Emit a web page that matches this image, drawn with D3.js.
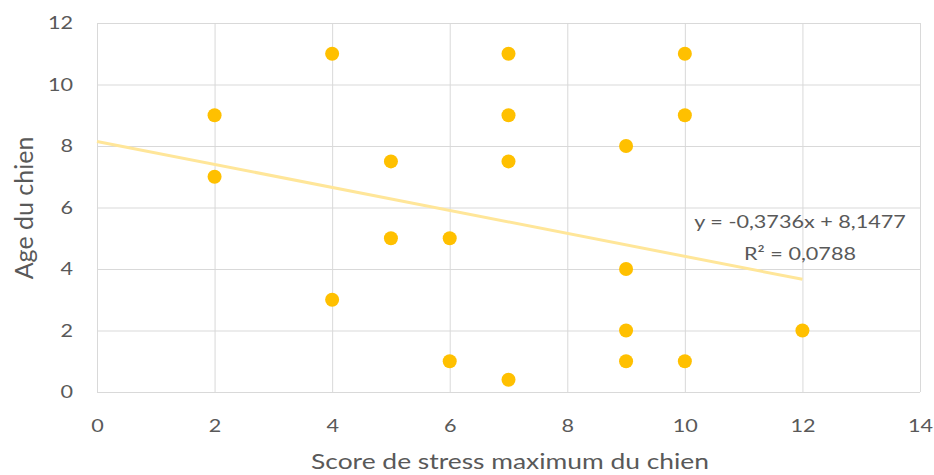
<!DOCTYPE html>
<html>
<head>
<meta charset="utf-8">
<script src="https://cdn.jsdelivr.net/npm/d3@7"></script>
<style>
  body { margin: 0; background: #fff; }
  text { font-family: Lato, "Open Sans", sans-serif; fill: #595959; }
  .grid line { stroke: #d9d9d9; stroke-width: 1; }
  .axis path, .axis line { display: none; }
</style>
</head>
<body>
<div id="chart"></div>
<script>
// data
var stressScores = [2, 2, 4, 4, 5, 5, 6, 6, 7, 7, 7, 7, 9, 9, 9, 9, 10, 10, 10, 12];
var dogAges      = [9, 7, 11, 3, 7.5, 5, 5, 1, 11, 9, 7.5, 0.4, 8, 4, 2, 1, 11, 9, 1, 2];
var xTicks = [0, 2, 4, 6, 8, 10, 12, 14];
var yTicks = [0, 2, 4, 6, 8, 10, 12];
var trendSlope = -0.3736;
var trendIntercept = 8.1477;
var trendRange = [0, 12];
var equationLabel = "y = -0,3736x + 8,1477";
var r2Label = "R² = 0,0788";

var margin = {top: 23, right: 14, bottom: 83, left: 97};
var width = 934 - margin.left - margin.right;
var height = 475 - margin.top - margin.bottom;

// the reference text is drawn a bit wider than Lato, stretch it horizontally
var stretch = 1.2;

var svg = d3.select("#chart")
            .append("svg")
              .attr("width", 934)
              .attr("height", 475);

var chart = svg.append("g")
              .attr("transform", "translate(" + margin.left + "," + margin.top + ")");

var points = stressScores.map(function(d, i) {
  return {x: d, y: dogAges[i]};
});

// scales
var xScale = d3.scaleLinear().domain([0, 14]).range([0, width]);
var yScale = d3.scaleLinear().domain([0, 12]).range([height, 0]);

// gridlines
var grid = chart.append("g").attr("class", "grid");
grid.selectAll(".hline")
    .data(yTicks)
    .enter()
  .append("line")
    .attr("x1", 0)
    .attr("x2", width)
    .attr("y1", function(d) { return yScale(d) + 0.5; })
    .attr("y2", function(d) { return yScale(d) + 0.5; });
grid.selectAll(".vline")
    .data(xTicks)
    .enter()
  .append("line")
    .attr("y1", 0)
    .attr("y2", height)
    .attr("x1", function(d) { return xScale(d) + 0.5; })
    .attr("x2", function(d) { return xScale(d) + 0.5; });

// axes
var xAxis = d3.axisBottom(xScale).tickValues(xTicks).tickSize(0).tickPadding(27).tickFormat(d3.format("d"));
var yAxis = d3.axisLeft(yScale).tickValues(yTicks).tickSize(0).tickFormat(d3.format("d"));

chart.append("g")
      .attr("class", "axis x-axis")
      .attr("transform", "translate(0," + height + ")")
      .call(xAxis)
      .selectAll("text")
        .style("font-size", "18px")
        .attr("transform", "scale(" + stretch + ",1)");

chart.append("g")
      .attr("class", "axis y-axis")
      .call(yAxis)
      .selectAll("text")
        .style("font-size", "18px")
        .attr("x", -24 / stretch)
        .attr("transform", "scale(" + stretch + ",1)");

// axis titles
svg.append("text")
    .attr("transform", "translate(510,469) scale(" + stretch + ",1)")
    .attr("text-anchor", "middle")
    .style("font-size", "22px")
    .text("Score de stress maximum du chien");

svg.append("text")
    .attr("transform", "translate(33,208) rotate(-90)")
    .attr("text-anchor", "middle")
    .style("font-size", "25px")
    .text("Age du chien");

// trendline
chart.append("line")
      .attr("x1", xScale(trendRange[0]))
      .attr("y1", yScale(trendIntercept + trendSlope * trendRange[0]))
      .attr("x2", xScale(trendRange[1]))
      .attr("y2", yScale(trendIntercept + trendSlope * trendRange[1]))
      .attr("stroke", "#ffe699")
      .attr("stroke-width", 3);

// points
chart.selectAll("circle")
      .data(points)
      .enter()
    .append("circle")
      .attr("cx", function(d) { return xScale(d.x); })
      .attr("cy", function(d) { return yScale(d.y); })
      .attr("r", 7)
      .attr("fill", "#ffc000");

// equation label
var eq = svg.append("text")
    .attr("transform", "translate(800,228) scale(" + stretch + ",1)")
    .attr("text-anchor", "middle")
    .style("font-size", "18px");
eq.append("tspan").attr("x", 0).text(equationLabel);
eq.append("tspan").attr("x", 0).attr("dy", 32).text(r2Label);
</script>
</body>
</html>
